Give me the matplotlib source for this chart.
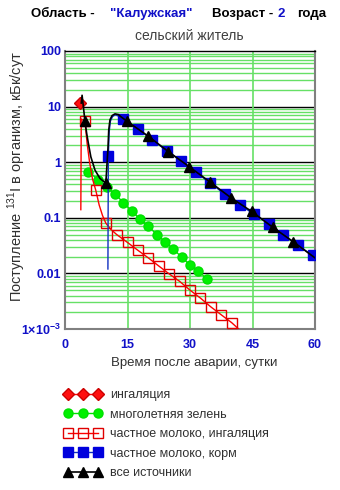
import matplotlib
matplotlib.use("Agg")
import matplotlib.pyplot as plt
from matplotlib.ticker import FixedLocator, NullFormatter

plt.rcParams['font.family'] = ['Liberation Sans', 'DejaVu Sans']
plt.rcParams['mathtext.fontset'] = 'custom'
plt.rcParams['mathtext.rm'] = 'Liberation Sans'
plt.rcParams['mathtext.bf'] = 'Liberation Sans:bold'

# ---------------- data ----------------
inh_days = [3.6]
inh_vals = [11.6]

green_days = [5.6, 8.0, 10.0, 12.0, 14.0, 16.0, 18.0, 20.0, 22.0, 24.0, 26.0, 28.0, 30.0, 32.0, 34.0]
green_vals = [0.68, 0.48, 0.36, 0.27, 0.187, 0.133, 0.095, 0.071, 0.050, 0.037, 0.0275, 0.0195,
              0.0142, 0.0112, 0.0079]

milk_inh_days = [3.8, 3.9, 4.8, 5.3, 5.9, 6.6, 7.4, 8.2, 9.0, 9.8, 11.0, 12.4, 15.0, 17.5, 20.0,
                 22.5, 25.0, 27.5, 30.0, 32.5, 35.0, 37.5, 40.0, 42.5]
milk_inh_vals = [0.14, 6.0, 5.4, 2.2, 1.0, 0.5, 0.31, 0.17, 0.11, 0.08, 0.062, 0.05, 0.036, 0.026,
                 0.019, 0.0136, 0.0098, 0.0072, 0.005, 0.0036, 0.0025, 0.0018, 0.0013, 0.00088]
milk_inh_marks = [2, 6, 9, 11, 12, 13, 14, 15, 16, 17, 18, 19, 20, 21, 22]

milk_feed_days = [10.3, 10.4, 10.6, 10.9, 11.4, 12.0, 12.8, 13.9, 17.4, 20.9, 24.4, 27.9, 31.4,
                  34.9, 38.4, 41.9, 45.4, 48.9, 52.4, 55.9, 59.4]
milk_feed_vals = [0.012, 1.3, 3.5, 5.5, 6.6, 7.1, 6.8, 5.9, 4.0, 2.55, 1.61, 1.05, 0.66, 0.42,
                  0.265, 0.17, 0.117, 0.078, 0.049, 0.032, 0.021]
milk_feed_marks = [1, 7, 8, 9, 10, 11, 12, 13, 14, 15, 16, 17, 18, 19, 20]

all_days = [3.9, 4.1, 4.8, 5.2, 5.6, 6.2, 7.2, 8.4, 9.8, 10.3, 10.5, 10.8, 11.3, 12.0, 12.8, 13.5,
            14.8, 19.8, 24.8, 29.8, 34.8, 39.8, 44.8, 49.8, 54.8, 60.0]
all_vals = [11.6, 16.0, 5.4, 3.3, 2.2, 1.25, 0.72, 0.51, 0.42, 1.7, 3.8, 5.8, 6.9, 7.4, 7.2, 6.5,
            5.5, 3.0, 1.55, 0.83, 0.44, 0.23, 0.13, 0.068, 0.037, 0.019]
all_marks = [2, 8, 16, 17, 18, 19, 20, 21, 22, 23, 24]

x_ticks = [0, 15, 30, 45, 60]
y_ticks = [1e-3, 0.01, 0.1, 1, 10, 100]
y_ticklabels = [r'1×10$^{\mathbf{-3}}$', '0.01', '0.1', '1', '10', '100']

labels = ['ингаляция', 'многолетняя зелень', 'частное молоко, ингаляция',
          'частное молоко, корм', 'все источники']

# ---------------- figure ----------------
W, H = 340, 490
fig = plt.figure(figsize=(W / 100, H / 100), dpi=100)
fig.patch.set_facecolor('white')

L, R, T, B = 65, 315, 51, 329
ax = fig.add_axes([L / W, 1 - B / H, (R - L) / W, (B - T) / H])
ax.set_yscale('log')
ax.set_xlim(0, 60)
ax.set_ylim(1e-3, 100)

grid_green = '#66E066'
minor = [m * 10.0 ** e for e in range(-3, 2) for m in range(2, 10)]
for v in minor:
    ax.axhline(v, color=grid_green, lw=1.0, zorder=0.5)
for v in [0.01, 0.1, 1, 10]:
    ax.axhline(v, color='black', lw=1.0, zorder=0.6)
for v in [15, 30, 45]:
    ax.axvline(v, color=grid_green, lw=1.2, zorder=0.7)

ms = 6.5
h1, = ax.plot(inh_days, inh_vals, '-', color='#FF0000', marker='D', ms=6, mfc='#FF1010',
              mec='#CC0000', lw=1, zorder=3)
h2, = ax.plot(green_days, green_vals, '-', color='#00E000', marker='o', ms=ms, mfc='#00F000',
              mec='#00E000', lw=1, zorder=3)
h3, = ax.plot(milk_inh_days, milk_inh_vals, '-', color='#FF0000', marker='s', ms=ms, mfc='none',
              mec='#E00000', mew=1, lw=1, markevery=milk_inh_marks, zorder=4)
h4, = ax.plot(milk_feed_days, milk_feed_vals, '-', color='#1030C0', marker='s', ms=ms,
              mfc='#0000DD', mec='#0000DD', lw=1, markevery=milk_feed_marks, zorder=5)
h5, = ax.plot(all_days, all_vals, '-', color='black', marker='^', ms=ms, mfc='black',
              mec='black', lw=1.2, markevery=all_marks, zorder=6)

for side in ['left', 'bottom', 'right']:
    ax.spines[side].set_color('#808080')
    ax.spines[side].set_linewidth(1.5)
ax.spines['top'].set_color('black')
ax.spines['top'].set_linewidth(1.0)

ax.xaxis.set_major_locator(FixedLocator(x_ticks))
ax.set_xticklabels([str(t) for t in x_ticks])
ax.yaxis.set_major_locator(FixedLocator(y_ticks))
ax.set_yticklabels(y_ticklabels)
ax.yaxis.set_minor_formatter(NullFormatter())
ax.tick_params(axis='both', which='both', length=0, labelcolor='#1010C8')
ax.tick_params(axis='x', pad=7)
ax.tick_params(axis='y', pad=3)
for lab in ax.get_xticklabels() + ax.get_yticklabels():
    lab.set_fontweight('bold')
    lab.set_fontsize(9)

fig.text(194 / W, 1 - 363 / H, 'Время после аварии, сутки', ha='center', va='center',
         fontsize=9.5, color='#303030')
fig.text(17 / W, 1 - 176 / H, 'Поступление $^{131}$I в организм, кБк/сут', ha='center',
         va='center', rotation=90, fontsize=10.5, color='#303030')

ty = 1 - 14 / H
fig.text(31 / W, ty, 'Область - ', fontsize=9.5, fontweight='bold', color='black', va='center')
fig.text(110 / W, ty, '"Калужская"', fontsize=9.5, fontweight='bold', color='#1010C8', va='center')
fig.text(212 / W, ty, 'Возраст - ', fontsize=9.5, fontweight='bold', color='black', va='center')
fig.text(277 / W, ty, '2', fontsize=9.5, fontweight='bold', color='#1010C8', va='center')
fig.text(297 / W, ty, 'года', fontsize=9.5, fontweight='bold', color='black', va='center')
fig.text(189 / W, 1 - 36 / H, 'сельский житель', ha='center', va='center', fontsize=10,
         color='#404040')

leg = fig.legend([h1, h2, h3, h4, h5], labels, loc='upper left',
                 bbox_to_anchor=(64 / W, 1 - 389 / H), frameon=False, borderpad=0,
                 borderaxespad=0, numpoints=3, handlelength=3.0, handletextpad=0.7,
                 labelspacing=0.6, fontsize=9)
for t in leg.get_texts():
    t.set_color('#303030')

fig.savefig('out.png', dpi=100, facecolor='white')
